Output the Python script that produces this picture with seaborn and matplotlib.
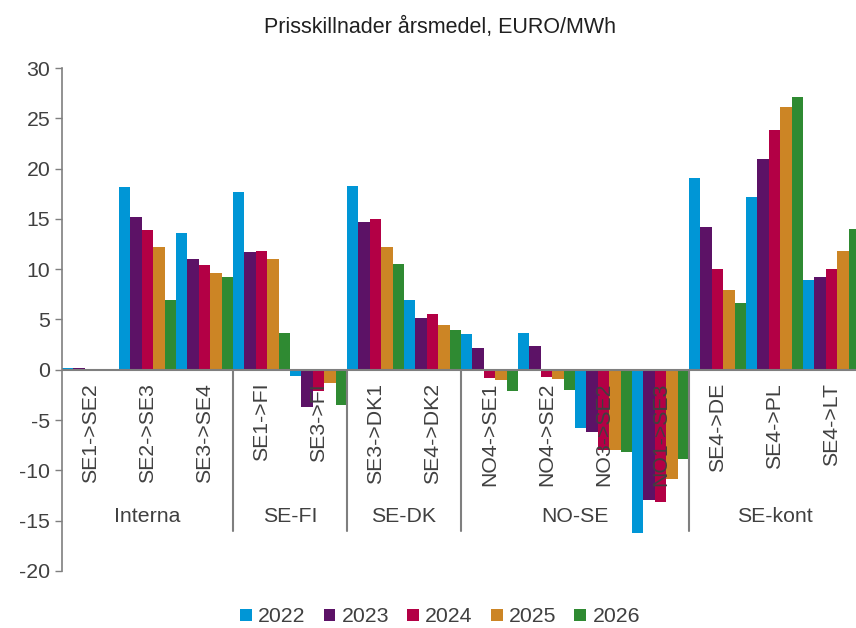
import numpy as np
import pandas as pd
import matplotlib
matplotlib.use("Agg")
import matplotlib.pyplot as plt
import seaborn as sns

# data
categories = ["SE1->SE2", "SE2->SE3", "SE3->SE4", "SE1->FI", "SE3->FI", "SE3->DK1", "SE4->DK2",
              "NO4->SE1", "NO4->SE2", "NO3->SE2", "NO1->SE3", "SE4->DE", "SE4->PL", "SE4->LT"]
years = ["2022", "2023", "2024", "2025", "2026"]
v2022 = [0.2, 18.2, 13.6, 17.7, -0.65, 18.3, 6.9, 3.6, 3.65, -5.8, -16.25, 19.1, 17.2, 8.9]
v2023 = [0.2, 15.2, 11.0, 11.7, -3.65, 14.7, 5.1, 2.2, 2.35, -6.2, -12.9, 14.2, 21.0, 9.2]
v2024 = [0.0, 13.9, 10.4, 11.8, -2.1, 15.0, 5.5, -0.85, -0.7, -8.0, -13.15, 10.0, 23.85, 10.0]
v2025 = [0.0, 12.2, 9.6, 11.0, -1.3, 12.2, 4.5, -1.05, -0.95, -8.0, -10.85, 7.95, 26.1, 11.8]
v2026 = [0.0, 6.9, 9.2, 3.65, -3.5, 10.5, 4.0, -2.1, -2.0, -8.15, -8.85, 6.6, 27.1, 14.0]
group_names = ["Interna", "SE-FI", "SE-DK", "NO-SE", "SE-kont"]
group_sizes = [3, 2, 2, 4, 3]

colors = ["#0096D6", "#5C1266", "#B30045", "#CC8525", "#2F8A32"]
txt = "#404040"
line = "#7f7f7f"
fs = 15.3

rows = []
for y, vals in zip(years, [v2022, v2023, v2024, v2025, v2026]):
    for c, v in zip(categories, vals):
        rows.append({"kat": c, "year": y, "val": v})
df = pd.DataFrame(rows)

sns.set_style("white")
plt.rcParams["font.family"] = ["Liberation Sans", "DejaVu Sans"]
plt.rcParams["axes.unicode_minus"] = False

fig = plt.figure(figsize=(8.56, 6.28), dpi=100)
ax = fig.add_axes([62/856, 1-571/628, (860-62)/856, (571-68)/628])

sns.barplot(data=df, x="kat", y="val", hue="year", order=categories, hue_order=years,
            palette=colors, width=1.0, saturation=1, linewidth=0, ax=ax)

ax.set_xlim(-0.5, len(categories) - 0.5)
ax.set_ylim(-20, 30)
ax.set_yticks(np.arange(-20, 31, 5))
ax.tick_params(axis="y", labelsize=fs, colors=txt, length=5, width=1, color=line, direction="out", left=True)
for t in ax.get_yticklabels():
    t.set_color(txt)
ax.set_xticks([])
ax.set_xlabel("")
ax.set_ylabel("")
for s in ["top", "right", "bottom"]:
    ax.spines[s].set_visible(False)
ax.spines["left"].set_color(line)
ax.spines["left"].set_linewidth(1.2)

# nollinje
ax.axhline(0, color=line, lw=1.5, zorder=4)

# kategorietiketter inne i diagrammet
for i, c in enumerate(categories):
    ax.text(i, -1.3, c, rotation=90, ha="center", va="top", fontsize=fs, color=txt, zorder=5)

# gruppavgränsare och gruppnamn
pos = -0.5
for g, n in zip(group_names, group_sizes):
    ax.text(pos + n / 2, -14.6, g, ha="center", va="center", fontsize=fs, color=txt)
    pos += n
    if pos < len(categories) - 0.5:
        ax.plot([pos, pos], [0, -16], color=line, lw=1.5, clip_on=False)

fig.text(440/856, 1-27/628, "Prisskillnader årsmedel, EURO/MWh", ha="center", va="center",
         fontsize=15.5, color="#202020")

handles, labels = ax.get_legend_handles_labels()
ax.legend_.remove()
fig.legend(handles, labels, loc="center", bbox_to_anchor=(440/856, 1-617/628), ncol=5,
           frameon=False, fontsize=fs, handlelength=0.55, handleheight=0.55,
           handletextpad=0.3, columnspacing=0.85, labelcolor=txt)

fig.savefig("out.png", dpi=100)
